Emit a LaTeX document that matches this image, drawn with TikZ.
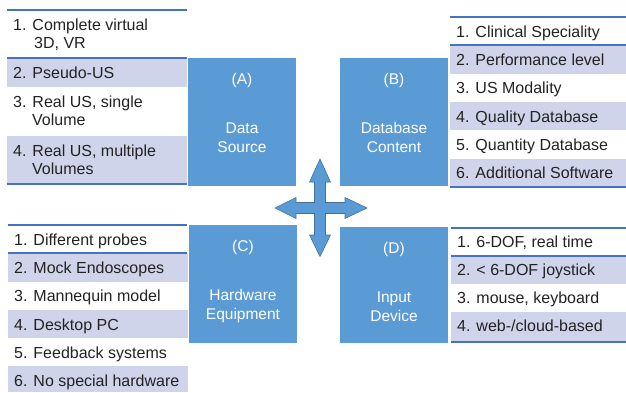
\documentclass[tikz,border=0pt]{standalone}
\usepackage{fontspec}
\setmainfont{Liberation Sans}
\definecolor{boxblue}{HTML}{5B9BD5}
\definecolor{edgeblue}{HTML}{41719C}
\definecolor{ruleblue}{HTML}{4472C4}
\definecolor{bandfill}{HTML}{CFD4EA}
\definecolor{itemtext}{HTML}{222222}
\tikzset{
  band/.style={fill=bandfill, draw=none},
  rulebar/.style={draw=ruleblue, line width=2pt},
  catbox/.style={fill=boxblue, draw=none},
  item/.style={anchor=base west, inner sep=0pt, text=itemtext,
    font=\fontsize{16}{18}\selectfont},
  boxlabel/.style={anchor=base, inner sep=0pt, text=white,
    font=\fontsize{15.5}{18}\selectfont},
  crossarrow/.style={fill=boxblue, draw=edgeblue, line width=0.6pt, line join=miter}
}
\begin{document}
\begin{tikzpicture}[x=1pt, y=-1pt]
\useasboundingbox (0,0) rectangle (626,393);

% ---------- (A) Data Source ----------
\fill[band] (7,58) rectangle (187,87);
\fill[band] (7,136) rectangle (187,184);
\draw[rulebar] (7,10) -- (187,10);
\draw[rulebar] (7,58) -- (187,58);
\draw[rulebar] (7,184) -- (187,184);
\node[item] (a1)  at (13,30.5)  {1. Complete virtual};
\node[item] (a1b) at (34,48.5)  {3D, VR};
\node[item] (a2)  at (13,78.5)  {2. Pseudo-US};
\node[item] (a3)  at (13,107.5) {3. Real US, single};
\node[item] (a3b) at (32,125.5) {Volume};
\node[item] (a4)  at (13,156.5) {4. Real US, multiple};
\node[item] (a4b) at (32,174.5) {Volumes};
\fill[catbox] (188,58) rectangle (296,186);
\node[boxlabel] (al) at (242,85)    {(A)};
\node[boxlabel] (an) at (242,133.5) {Data};
\node[boxlabel] (as) at (242,152.5) {Source};

% ---------- (B) Database Content ----------
\fill[band] (450,45.3) rectangle (626,73.7);
\fill[band] (450,102) rectangle (626,130.3);
\fill[band] (450,158.7) rectangle (626,187);
\draw[rulebar] (450,17) -- (626,17);
\draw[rulebar] (450,45.3) -- (626,45.3);
\draw[rulebar] (450,187) -- (626,187);
\node[item] (b1) at (456,37.2)  {1. Clinical Speciality};
\node[item] (b2) at (456,65.5)  {2. Performance level};
\node[item] (b3) at (456,93.8)  {3. US Modality};
\node[item] (b4) at (456,122.2) {4. Quality Database};
\node[item] (b5) at (456,150.5) {5. Quantity Database};
\node[item] (b6) at (456,178.8) {6. Additional Software};
\fill[catbox] (340,58) rectangle (448,186);
\node[boxlabel] (bl) at (394,85)    {(B)};
\node[boxlabel] (bn) at (394,133.5) {Database};
\node[boxlabel] (bs) at (394,152.5) {Content};

% ---------- (C) Hardware Equipment ----------
\fill[band] (8,253) rectangle (188,281.5);
\fill[band] (8,310) rectangle (188,338);
\fill[band] (8,366) rectangle (188,392);
\draw[rulebar] (8,225) -- (187,225);
\draw[rulebar] (8,253) -- (187,253);
\node[item] (c1) at (14,245)   {1. Different probes};
\node[item] (c2) at (14,273.5) {2. Mock Endoscopes};
\node[item] (c3) at (14,301.5) {3. Mannequin model};
\node[item] (c4) at (14,330)   {4. Desktop PC};
\node[item] (c5) at (14,358)   {5. Feedback systems};
\node[item] (c6) at (14,386)   {6. No special hardware};
\fill[catbox] (189,225) rectangle (297,343);
\node[boxlabel] (cl) at (243,251)   {(C)};
\node[boxlabel] (cn) at (243,300.5) {Hardware};
\node[boxlabel] (cs) at (243,319.5) {Equipment};

% ---------- (D) Input Device ----------
\fill[band] (451,255.5) rectangle (626,283.5);
\fill[band] (451,311.5) rectangle (626,341);
\draw[rulebar] (451,227.5) -- (626,227.5);
\draw[rulebar] (451,255.5) -- (626,255.5);
\draw[rulebar] (451,342) -- (626,342);
\node[item] (d1) at (457,247.5) {1. 6-DOF, real time};
\node[item] (d2) at (457,275.5) {2. < 6-DOF joystick};
\node[item] (d3) at (457,303.5) {3. mouse, keyboard};
\node[item] (d4) at (457,331.5) {4. web-/cloud-based};
\fill[catbox] (340,227) rectangle (448,343);
\node[boxlabel] (dl) at (394,253)   {(D)};
\node[boxlabel] (dn) at (394,302.5) {Input};
\node[boxlabel] (ds) at (394,321.5) {Device};

% ---------- four-way arrow in the middle ----------
\coordinate (hub) at (320,208);
\draw[crossarrow, shift={(hub)}]
  (0,-49) -- (10.5,-26) -- (5.5,-26) -- (5.5,-5.5) -- (25,-5.5) -- (25,-10.5)
  -- (47,0) -- (25,10.5) -- (25,5.5) -- (5.5,5.5) -- (5.5,27) -- (10.5,27)
  -- (0,48.5) -- (-10.5,27) -- (-5.5,27) -- (-5.5,5.5) -- (-24,5.5) -- (-24,10.5)
  -- (-45,0) -- (-24,-10.5) -- (-24,-5.5) -- (-5.5,-5.5) -- (-5.5,-26) -- (-10.5,-26)
  -- cycle;
\end{tikzpicture}
\end{document}
